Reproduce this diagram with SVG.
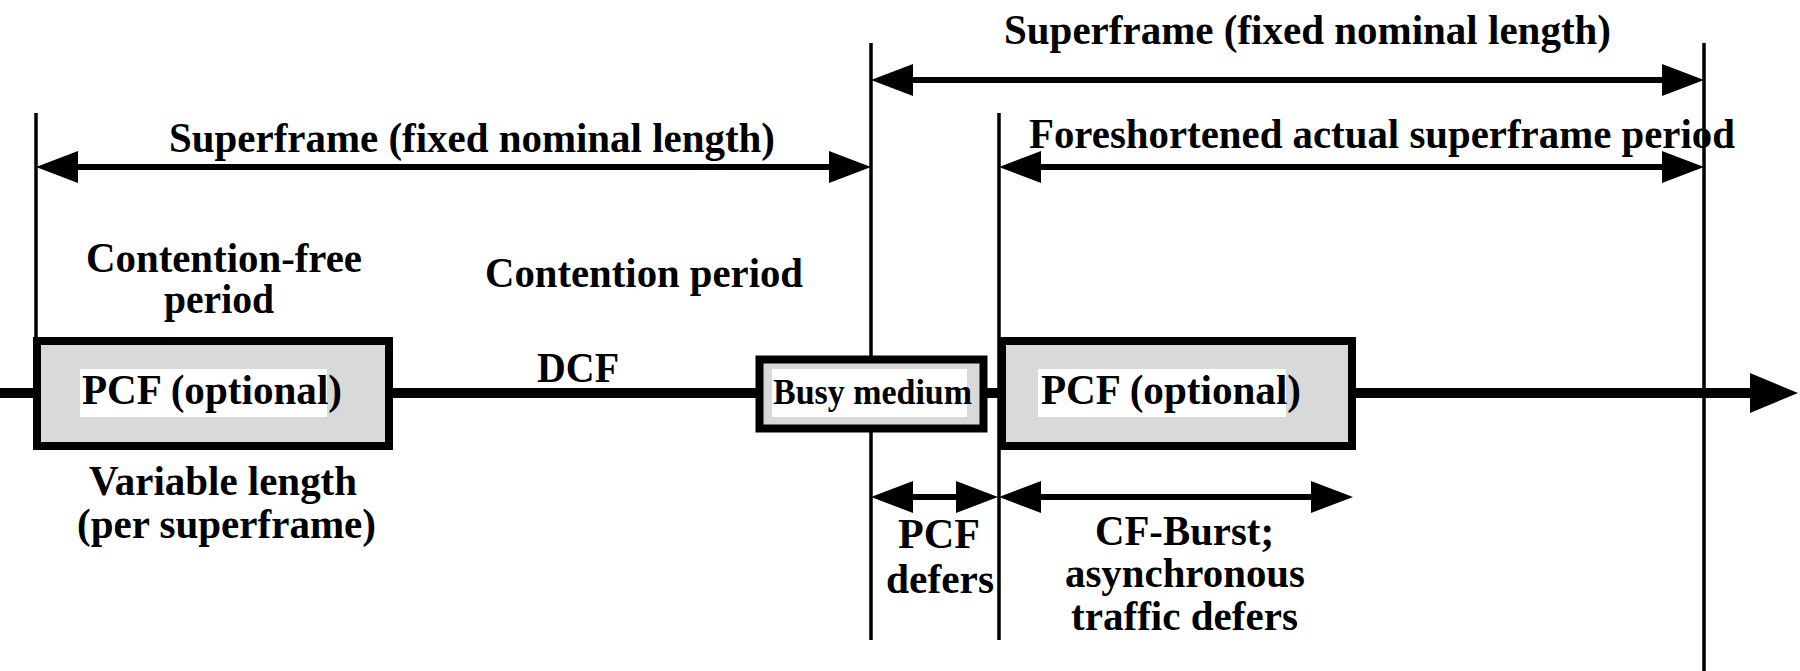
<svg xmlns="http://www.w3.org/2000/svg" width="1800" height="671" viewBox="0 0 1800 671">
<style>
text{font-family:"Liberation Serif","Times New Roman",serif;font-weight:bold;font-size:43px;fill:#000}
.small{font-size:36px}
.vline{stroke:#000;stroke-width:3.5;fill:none}
.arr{stroke:#000;stroke-width:6;fill:none;marker-start:url(#ah);marker-end:url(#ah)}
.main{stroke:#000;stroke-width:10;fill:none;marker-end:url(#ahBig)}
.box{fill:#d9d9d9;stroke:#000;stroke-width:8}
.bg{fill:#fff}
</style>
<defs>
<marker id="ah" markerUnits="userSpaceOnUse" viewBox="0 0 42 32" markerWidth="42" markerHeight="32" refX="2" refY="16" orient="auto-start-reverse">
<path d="M0,0 L42,16 L0,32 z" fill="#000"/>
</marker>
<marker id="ahBig" markerUnits="userSpaceOnUse" viewBox="0 0 48 40" markerWidth="48" markerHeight="40" refX="2" refY="20" orient="auto">
<path d="M0,0 L48,20 L0,40 z" fill="#000"/>
</marker>
</defs>
<rect width="1800" height="671" fill="#fff"/>
<g id="connectors">
<line class="vline" x1="36" y1="113" x2="36" y2="340"/>
<line class="vline" x1="871" y1="43" x2="871" y2="640"/>
<line class="vline" x1="999" y1="113" x2="999" y2="640"/>
<line class="vline" x1="1704" y1="43" x2="1704" y2="671"/>
<line class="main" x1="0" y1="393" x2="1752" y2="393"/>
<line class="arr" x1="911" y1="80" x2="1664" y2="80"/>
<line class="arr" x1="76" y1="167" x2="831" y2="167"/>
<line class="arr" x1="1039" y1="167" x2="1664" y2="167"/>
<line class="arr" x1="911" y1="497" x2="958" y2="497"/>
<line class="arr" x1="1039" y1="497" x2="1313" y2="497"/>
</g>
<g id="pcf1">
<rect class="box" x="37" y="341" width="352" height="105"/>
<rect class="bg" x="80" y="369" width="247" height="48"/>
<text x="82" y="404" textLength="260" lengthAdjust="spacingAndGlyphs">PCF (optional)</text>
</g>
<g id="busy">
<rect class="box" x="759.5" y="359.5" width="224" height="69" stroke-width="7"/>
<rect class="bg" x="772" y="369" width="195" height="48"/>
<text class="small" x="773" y="404" textLength="199" lengthAdjust="spacingAndGlyphs">Busy medium</text>
</g>
<g id="pcf2">
<rect class="box" x="1002" y="341" width="350" height="105"/>
<rect class="bg" x="1038" y="369" width="248" height="48"/>
<text x="1041" y="404" textLength="260" lengthAdjust="spacingAndGlyphs">PCF (optional)</text>
</g>
<g id="labels">
<text x="1004" y="44" textLength="607" lengthAdjust="spacingAndGlyphs">Superframe (fixed nominal length)</text>
<text x="169" y="152" textLength="606" lengthAdjust="spacingAndGlyphs">Superframe (fixed nominal length)</text>
<text x="1029" y="148" textLength="706" lengthAdjust="spacingAndGlyphs">Foreshortened actual superframe period</text>
<text x="86" y="272" textLength="276" lengthAdjust="spacingAndGlyphs">Contention-free</text>
<text x="164" y="313" textLength="110" lengthAdjust="spacingAndGlyphs">period</text>
<text x="485" y="287" textLength="318" lengthAdjust="spacingAndGlyphs">Contention period</text>
<text x="537" y="382" textLength="82" lengthAdjust="spacingAndGlyphs">DCF</text>
<text x="89" y="495" textLength="268" lengthAdjust="spacingAndGlyphs">Variable length</text>
<text x="77" y="538" textLength="299" lengthAdjust="spacingAndGlyphs">(per superframe)</text>
<text x="898" y="548" textLength="82" lengthAdjust="spacingAndGlyphs">PCF</text>
<text x="886" y="593" textLength="108" lengthAdjust="spacingAndGlyphs">defers</text>
<text x="1095" y="545" textLength="179" lengthAdjust="spacingAndGlyphs">CF-Burst;</text>
<text x="1065" y="587" textLength="240" lengthAdjust="spacingAndGlyphs">asynchronous</text>
<text x="1071" y="630" textLength="227" lengthAdjust="spacingAndGlyphs">traffic defers</text>
</g>
</svg>
